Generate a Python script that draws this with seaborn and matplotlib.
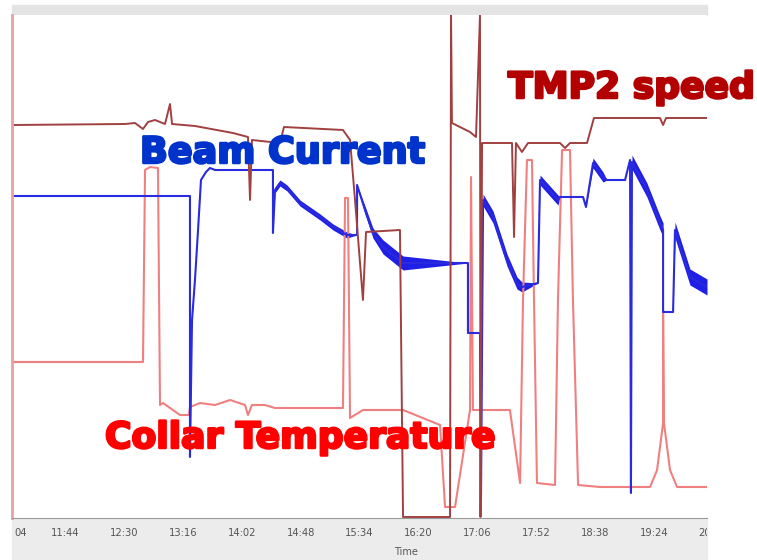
import numpy as np
import matplotlib
matplotlib.use("Agg")
import matplotlib.pyplot as plt
import matplotlib.transforms as mtransforms
import matplotlib.patheffects as pe
import seaborn as sns
from matplotlib.patches import Rectangle
from matplotlib.ticker import MultipleLocator

# ---------------- DATA ----------------
# x: minutes after 11:44, y: signal level on a shared arbitrary scale (0..503)
tmp2_t = [-41.4, 46.9, 54.7, 60.9, 64.8, 70.3, 78.1, 82.0, 83.6, 101.5, 131.2, 142.9, 144.5, 146.0,
          167.9, 171.0, 217.1, 222.6, 226.5, 232.7, 235.1, 261.6, 264.0, 300.7, 301.5, 302.2, 316.3,
          321.0, 324.1, 324.5, 325.7, 349.1, 350.7, 352.2, 356.9, 361.6, 386.6, 390.5, 394.4, 407.7,
          413.1, 464.7, 467.1, 469.4, 501.4]
tmp2_v = [393, 394, 395, 389, 396, 398, 394, 414, 394, 392, 385, 381, 318, 378,
          375, 391, 388, 378, 318, 218, 286, 288, 1, 1, 503, 395, 386,
          381, 503, 1, 375, 375, 281, 375, 366, 375, 375, 370, 375, 375,
          400, 400, 393, 400, 400]

beam_t = [-41.4, 97.6, 97.6, 99.2, 101.5, 103.9, 106.2, 110.1, 113.2, 117.2, 162.4, 162.4, 164.0,
          167.9, 173.4, 183.5, 199.2, 209.3, 220.2, 228.1, 228.1, 234.3, 240.5, 248.4, 264.0, 314.7,
          314.7, 324.1, 324.9, 326.5, 334.3, 345.2, 353.0, 356.9, 369.4, 371.0, 385.0, 386.6, 404.6,
          406.9, 412.4, 420.2, 423.3, 437.4, 441.3, 442.0, 442.8, 454.5, 464.7, 467.1, 467.1, 474.9,
          476.4, 488.1, 501.4]
beam_v = [322, 322, 61, 198, 238, 288, 338, 346, 350, 348, 348, 285, 328,
          335, 330, 315, 301, 291, 283, 283, 333, 308, 285, 271, 255, 255,
          185, 185, 21, 318, 301, 258, 235, 231, 235, 338, 318, 321, 321,
          311, 355, 341, 338, 338, 358, 25, 356, 328, 295, 288, 206, 206,
          288, 241, 231]
# half-width of the noisy band around the beam trace
beam_spread = [0, 0, 0, 0, 0, 0, 0, 0, 0, 0, 0, 0, 3,
               3, 3, 3, 3, 3, 3, 0, 0, 4, 5, 7, 7, 0,
               0, 0, 0, 6, 6, 6, 6, 5, 0, 5, 5, 0, 0,
               0, 5, 5, 0, 0, 0, 0, 7, 7, 7, 7, 0, 0,
               8, 8, 8]

collar_t = [-41.4, 60.9, 62.5, 66.4, 72.6, 74.2, 76.5, 82.0, 89.8, 96.8, 97.6, 105.4, 117.2, 128.9,
            140.6, 142.9, 146.0, 156.2, 164.0, 217.1, 218.7, 221.0, 222.6, 232.7, 264.0, 292.9,
            296.8, 304.6, 316.3, 317.1, 318.6, 329.6, 347.5, 355.4, 357.7, 360.8, 364.7, 366.3,
            368.6, 382.7, 385.0, 388.2, 394.4, 396.7, 400.7, 417.8, 456.9, 462.4, 467.1, 467.1,
            467.8, 472.5, 478.0, 501.4]
collar_v = [156, 156, 348, 351, 350, 113, 115, 110, 103, 103, 111, 115, 113, 118,
            113, 103, 113, 113, 110, 110, 320, 320, 100, 108, 108, 93,
            11, 11, 108, 341, 108, 108, 108, 35, 218, 358, 358, 218,
            35, 33, 218, 368, 368, 218, 33, 31, 31, 48, 95, 208,
            95, 48, 31, 31]

tick_min = [-35, 0, 46, 92, 138, 184, 230, 276, 322, 368, 414, 460]
tick_labels = ["04", "11:44", "12:30", "13:16", "14:02", "14:48", "15:34",
               "16:20", "17:06", "17:52", "18:38", "19:24"]
cut_tick_min = 506
cut_tick_label = "20:10"

# ---------------- FIGURE ----------------
sns.set_style("white")
plt.rcParams['font.family'] = ['DejaVu Sans']

W, H = 757, 560
fig = plt.figure(figsize=(W / 100, H / 100), dpi=100)

def fx(px):
    return px / W

def fy(py):
    return 1 - py / H

# grey window chrome of the original screenshot
fig.patches.append(Rectangle((fx(12), fy(15)), fx(707) - fx(12), fy(5) - fy(15),
                             transform=fig.transFigure, color="#e4e4e4", zorder=-5))
fig.patches.append(Rectangle((fx(12), 0), fx(707) - fx(12), fy(518),
                             transform=fig.transFigure, color="#ececec", zorder=-5))

ax = fig.add_axes([fx(12), fy(518), fx(707) - fx(12), fy(15) - fy(518)])

sns.lineplot(x=collar_t, y=collar_v, ax=ax, color="#f08080", lw=1.5,
             estimator=None, sort=False)

bv = np.array(beam_v)
bs = np.array(beam_spread)
ax.fill_between(beam_t, bv - bs, bv + bs, color="#1f1fe6", lw=0)
sns.lineplot(x=beam_t, y=beam_v, ax=ax, color="#2a2ade", lw=1.5,
             estimator=None, sort=False)

sns.lineplot(x=tmp2_t, y=tmp2_v, ax=ax, color="#a04040", lw=1.4,
             estimator=None, sort=False)

ax.set_xlim(-41.4, 501.4)
ax.set_ylim(0, 503)
ax.set_yticks([])
ax.set_ylabel("")
ax.set_xticks(tick_min, tick_labels)
ax.xaxis.set_minor_locator(MultipleLocator(4.6))
ax.tick_params(axis="x", which="major", length=4, width=0.8, color="#8a8a8a",
               labelsize=7.2, labelcolor="#555555", pad=3.5, direction="out")
ax.tick_params(axis="x", which="minor", length=2.5, width=0.6, color="#9a9a9a",
               direction="out")
ax.tick_params(axis="y", which="both", left=False)
sns.despine(ax=ax, top=True, right=True)
ax.spines["left"].set_color("#e8a0a0")
ax.spines["left"].set_linewidth(2)
ax.spines["bottom"].set_color("#9a9a9a")

ax.set_xlabel("Time", fontsize=7, color="#555555")
ax.xaxis.set_label_coords((406 - 12) / 695, -0.058)

# tick label cut by the right edge of the screenshot
trans = mtransforms.blended_transform_factory(ax.transData, fig.transFigure)
cut = ax.text(cut_tick_min, fy(528), cut_tick_label, transform=trans, ha="center", va="top",
              fontsize=7.2, color="#555555")
cut.set_clip_path(Rectangle((fx(12), 0), fx(707) - fx(12), 1, transform=fig.transFigure))
cut.set_clip_on(True)

# ---------------- LABELS ----------------
def heavy(color):
    return [pe.withStroke(linewidth=1.8, foreground=color)]

fig.text(fx(140), fy(163), "Beam Current", color="#0033cc", fontsize=26.3,
         fontweight="bold", ha="left", va="baseline", path_effects=heavy("#0033cc"))
fig.text(fx(508), fy(98), "TMP2 speed", color="#b30000", fontsize=26.0,
         fontweight="bold", ha="left", va="baseline", path_effects=heavy("#b30000"))
fig.text(fx(105), fy(448), "Collar Temperature", color="#ff0000", fontsize=26.0,
         fontweight="bold", ha="left", va="baseline", path_effects=heavy("#ff0000"))

fig.savefig("out.png", dpi=100, facecolor="white")
